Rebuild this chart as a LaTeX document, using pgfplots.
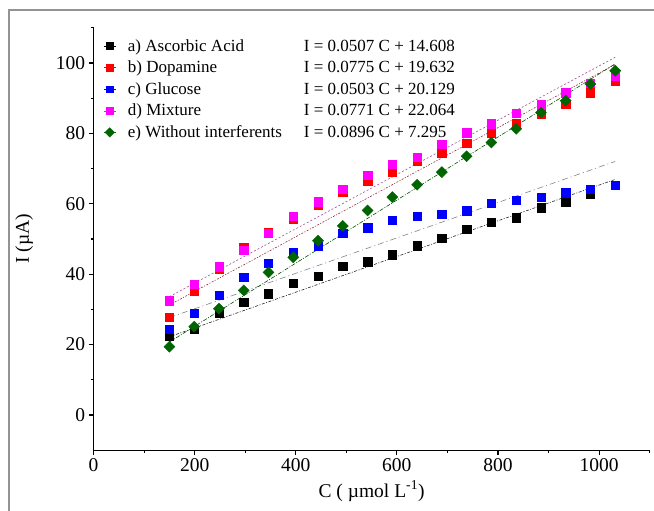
\documentclass[border=0pt]{standalone}
\usepackage{fontspec}
\setmainfont{Liberation Serif}
\usepackage{pgfplots}
\usepackage{pgfplotstable}
\pgfplotsset{compat=1.18}
\pgfplotstableread{
x     a     b     c     d     e
150   22.5  27.8  24.4  32.5  19.4
199   24.3  35.1  28.9  37.1  25.1
248   28.9  41.4  34.1  42.1  30.2
297   32.0  47.5  39.1  46.9  35.4
346   34.5  52.0  43.1  51.7  40.5
395   37.4  55.6  46.1  56.5  44.8
444   39.5  59.6  48.0  60.6  49.5
493   42.3  63.4  51.6  64.1  53.7
542   43.6  66.5  53.2  68.2  58.1
591   45.5  69.1  55.3  71.2  61.9
640   48.1  72.1  56.5  73.3  65.4
689   50.2  74.5  57.0  77.0  69.0
738   52.7  77.3  58.0  80.2  73.5
787   54.7  80.0  60.1  82.7  77.4
836   56.0  82.9  61.1  85.7  81.3
885   58.9  85.4  61.9  88.1  85.9
934   60.6  88.3  63.1  91.6  89.3
983   62.9  91.6  64.2  94.2  94.0
1032  65.2  95.0  65.3  96.3  97.8
}\datatab
\definecolor{mred}{RGB}{255,0,0}
\definecolor{mblue}{RGB}{0,0,255}
\definecolor{mmag}{RGB}{255,0,255}
\definecolor{mgreen}{RGB}{0,100,0}
\definecolor{lred}{RGB}{150,40,50}
\definecolor{lmag}{RGB}{160,80,150}
\definecolor{lgray}{RGB}{130,130,130}
\pgfplotsset{lm/.style={only marks, mark size=4.2pt, mark options={solid},
  legend image code/.code={\path (-6pt,0pt) -- (6pt,0pt); \draw[##1, mark size=3.3pt] plot coordinates {(0pt,0pt)};}}}
\begin{document}
\begin{tikzpicture}
\useasboundingbox (-93.6pt,-60.8pt) rectangle (560.4pt,450.2pt);
\draw[gray!85, line width=1.2pt] (-84.6pt,-62pt) -- (-84.6pt,440.2pt) -- (562pt,440.2pt);
\begin{axis}[
  at={(0pt,0pt)}, anchor=south west, scale only axis,
  width=556pt, height=422.4pt,
  xmin=0, xmax=1100, ymin=-10, ymax=110,
  axis x line*=bottom, axis y line*=left,
  axis line style={-, line width=1.1pt},
  tick style={line width=1.1pt, black},
  tick align=outside, major tick length=5pt, minor tick length=3pt,
  xtick={0,200,...,1000}, minor xtick={100,300,...,1100},
  ytick={0,20,...,100}, minor ytick={10,30,...,110},
  /pgf/number format/assume math mode=true,
  /pgf/number format/1000 sep={},
  ticklabel style={font=\fontsize{19.5}{22}\selectfont},
  xlabel={C ( µmol L\textsuperscript{-1})},
  ylabel={I (µA)},
  label style={font=\fontsize{19.5}{23}\selectfont},
  xlabel style={at={(axis description cs:0.5,-0.097)}, anchor=center},
  ylabel style={at={(axis description cs:-0.125,0.5)}, anchor=center},
  clip=false,
  legend cell align=left,
  legend style={draw=none, fill=none, at={(axis description cs:0.0175,0.978)}, anchor=north west,
    font=\fontsize{17}{20}\selectfont, row sep=4.3pt, inner sep=0pt,
    /tikz/every odd column/.append style={column sep=10pt}},
]
\addplot[forget plot, black!85, line width=0.6pt, dash pattern=on 3pt off 1.5pt on 1pt off 1.5pt] coordinates {(150,22.213) (1032,66.930)};
\addplot[forget plot, lred, line width=0.6pt, dash pattern=on 2pt off 1.5pt on 1pt off 1.5pt] coordinates {(150,31.257) (1032,99.612)};
\addplot[forget plot, lgray, line width=0.6pt, dash pattern=on 6pt off 3pt on 1pt off 3pt] coordinates {(150,27.674) (1032,72.039)};
\addplot[forget plot, lmag, line width=0.6pt, dash pattern=on 2pt off 2pt] coordinates {(150,33.629) (1032,101.631)};
\addplot[forget plot, mgreen!80!black, line width=0.6pt, dash pattern=on 4pt off 1.5pt on 1pt off 1.5pt] coordinates {(150,20.735) (1032,99.762)};
\addplot[lm, mark=square*, black] table[x=x, y=a] {\datatab};
\addlegendentry{\makebox[176pt][l]{a) Ascorbic Acid}I = 0.0507 C + 14.608}
\addplot[lm, mark=square*, mred] table[x=x, y=b] {\datatab};
\addlegendentry{\makebox[176pt][l]{b) Dopamine}I = 0.0775 C + 19.632}
\addplot[lm, mark=square*, mblue] table[x=x, y=c] {\datatab};
\addlegendentry{\makebox[176pt][l]{c) Glucose}I = 0.0503 C + 20.129}
\addplot[lm, mark=square*, mmag] table[x=x, y=d] {\datatab};
\addlegendentry{\makebox[176pt][l]{d) Mixture}I = 0.0771 C + 22.064}
\addplot[lm, mark=square*, mgreen, mark size=3.9pt, mark options={rotate=45}] table[x=x, y=e] {\datatab};
\addlegendentry{\makebox[176pt][l]{e) Without interferents}I = 0.0896 C + 7.295}
\end{axis}
\end{tikzpicture}
\end{document}
